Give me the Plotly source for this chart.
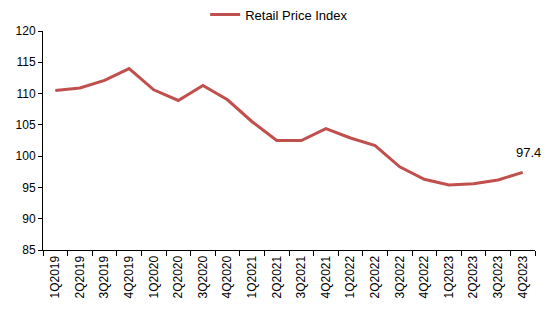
import plotly.graph_objects as go

quarters = ["1Q2019", "2Q2019", "3Q2019", "4Q2019", "1Q2020", "2Q2020", "3Q2020", "4Q2020",
            "1Q2021", "2Q2021", "3Q2021", "4Q2021", "1Q2022", "2Q2022", "3Q2022", "4Q2022",
            "1Q2023", "2Q2023", "3Q2023", "4Q2023"]
rpi = [110.5, 110.9, 112.1, 114.0, 110.6, 108.9, 111.3, 109.0,
       105.5, 102.5, 102.5, 104.4, 102.9, 101.7, 98.3, 96.3,
       95.4, 95.6, 96.2, 97.4]
series_name = "Retail Price Index"
last_label = "97.4"

fig = go.Figure()
fig.add_trace(go.Scatter(
    x=quarters, y=rpi, mode="lines", name=series_name,
    line=dict(color="#C0504D", width=3),
))
fig.add_annotation(x=quarters[-1], y=rpi[-1], text=last_label, showarrow=False,
                   xshift=6, yshift=20, font=dict(size=13, color="#000000"))

fig.update_layout(
    width=550, height=312,
    margin=dict(l=43, r=15, t=31, b=62, autoexpand=False),
    paper_bgcolor="white", plot_bgcolor="white",
    font=dict(family="Liberation Sans, Arial, sans-serif", size=12, color="#000000"),
    showlegend=True,
    legend=dict(orientation="h", x=0.48, xanchor="center", y=1.075, yanchor="middle",
                font=dict(size=13), bgcolor="rgba(0,0,0,0)"),
    xaxis=dict(type="category", range=[-0.5, len(quarters) - 0.5], showline=True,
               linecolor="black", linewidth=1, ticks="outside", ticklen=5,
               tickcolor="black", tickson="boundaries", tickangle=-90,
               showgrid=False, zeroline=False, tickfont=dict(size=12)),
    yaxis=dict(range=[85, 120], dtick=5, showline=True, linecolor="black", linewidth=1,
               ticks="outside", ticklen=4, tickcolor="black", showgrid=False,
               zeroline=False, tickfont=dict(size=12)),
)

fig.write_html("out.html")
